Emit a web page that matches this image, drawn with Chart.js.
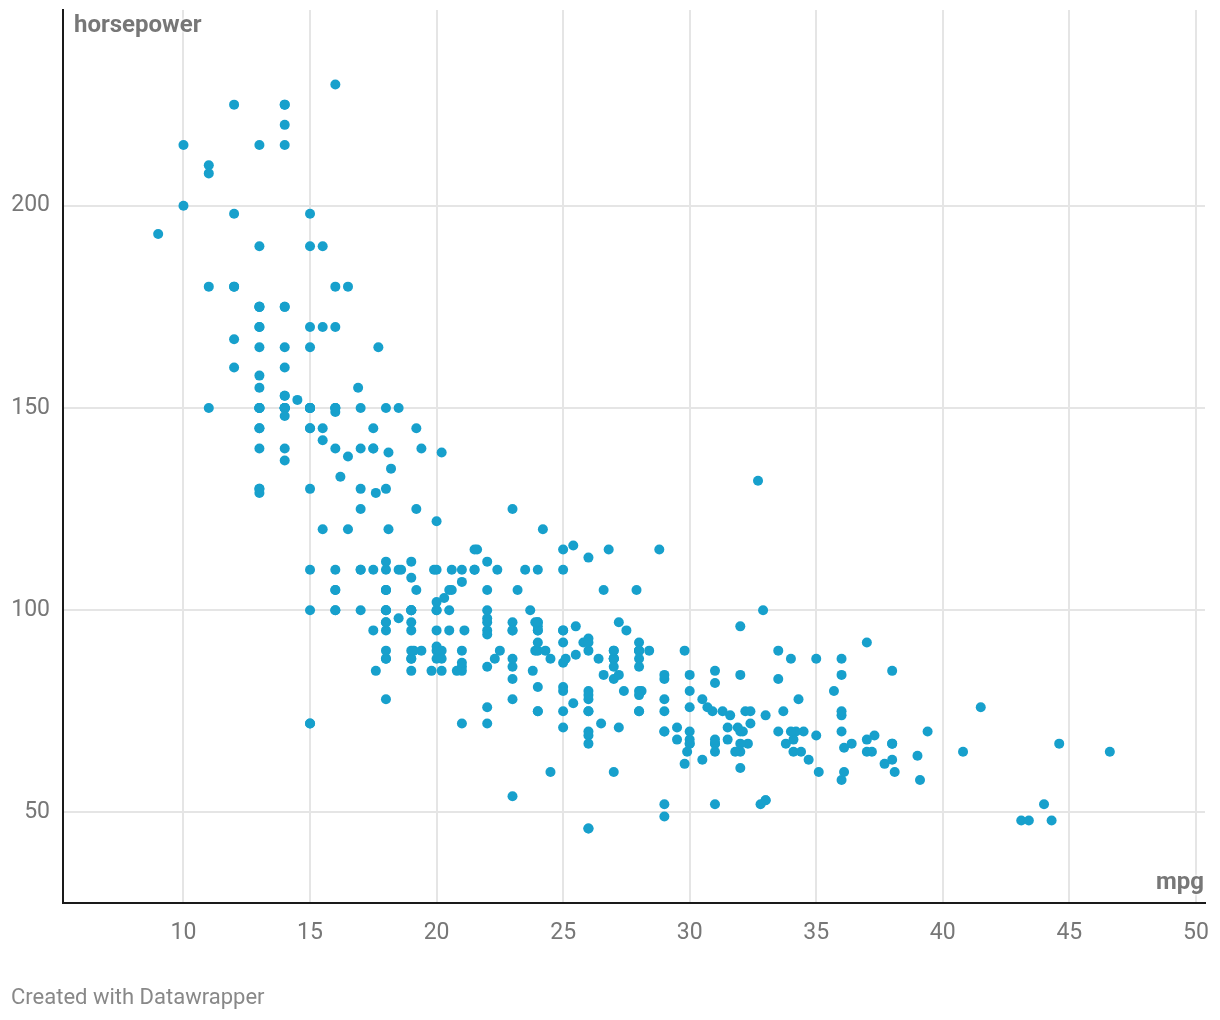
<!DOCTYPE html>
<html>
<head>
<meta charset="utf-8">
<script src="https://cdn.jsdelivr.net/npm/chart.js@4.4.1/dist/chart.umd.min.js"></script>
<style>
    body { margin: 0; background: #fff; font-family: Roboto, sans-serif; }
    #wrap { position: relative; width: 1220px; height: 1020px; }
    #chart { position: absolute; left: 0; top: 0; }
    .axis-title { position: absolute; font-weight: 700; font-size: 24px; color: #777; line-height: 1; text-shadow: 0 0 3px #fff, 0 0 3px #fff; }
    #yTitle { left: 74px; top: 12px; }
    #xTitle { right: 16px; top: 869px; }
    #footer { position: absolute; left: 11px; top: 986px; font-size: 22px; color: #888; line-height: 1; }
</style>
</head>
<body>
<div id="wrap">
    <canvas id="chart" width="1220" height="1020"></canvas>
    <div class="axis-title" id="yTitle">horsepower</div>
    <div class="axis-title" id="xTitle">mpg</div>
    <div id="footer">Created with Datawrapper</div>
</div>
<script>
// Values (auto mpg: mpg vs horsepower)
const mpg = [
    18, 15, 18, 16, 17, 15, 14, 14, 14, 15,
    15, 14, 15, 14, 24, 22, 18, 21, 27, 26,
    25, 24, 25, 26, 21, 10, 10, 11, 9, 27,
    28, 25, 19, 16, 17, 19, 18, 14, 14, 14,
    14, 12, 13, 13, 18, 22, 19, 18, 23, 28,
    30, 30, 31, 35, 27, 26, 24, 25, 23, 20,
    21, 13, 14, 15, 14, 17, 11, 13, 12, 13,
    19, 15, 13, 13, 14, 18, 22, 21, 26, 22,
    28, 23, 28, 27, 13, 14, 13, 14, 15, 12,
    13, 13, 14, 13, 12, 13, 18, 16, 18, 18,
    23, 26, 11, 12, 13, 12, 18, 20, 21, 22,
    18, 19, 21, 26, 15, 16, 29, 24, 20, 19,
    15, 24, 20, 11, 20, 19, 15, 31, 26, 32,
    25, 16, 16, 18, 16, 13, 14, 14, 14, 29,
    26, 26, 31, 32, 28, 24, 26, 24, 26, 31,
    19, 18, 15, 15, 16, 15, 16, 14, 17, 16,
    15, 18, 21, 20, 13, 29, 23, 20, 23, 24,
    25, 24, 18, 29, 19, 23, 23, 22, 25, 33,
    28, 25, 25, 26, 27, 17.5, 16, 15.5, 14.5, 22,
    22, 24, 22.5, 29, 24.5, 29, 33, 20, 18, 18.5,
    17.5, 29.5, 32, 28, 26.5, 20, 13, 19, 19, 16.5,
    16.5, 13, 13, 13, 31.5, 30, 36, 25.5, 33.5, 17.5,
    17, 15.5, 15, 17.5, 20.5, 19, 18.5, 16, 15.5, 15.5,
    16, 29, 24.5, 26, 25.5, 30.5, 33.5, 30, 30.5, 22,
    21.5, 21.5, 43.1, 36.1, 32.8, 39.4, 36.1, 19.9, 19.4, 20.2,
    19.2, 20.5, 20.2, 25.1, 20.5, 19.4, 20.6, 20.8, 18.6, 18.1,
    19.2, 17.7, 18.1, 17.5, 30, 27.5, 27.2, 30.9, 21.1, 23.2,
    23.8, 23.9, 20.3, 17, 21.6, 16.2, 31.5, 29.5, 21.5, 19.8,
    22.3, 20.2, 20.6, 17, 17.6, 16.5, 18.2, 16.9, 15.5, 19.2,
    18.5, 31.9, 34.1, 35.7, 27.4, 25.4, 23, 27.2, 23.9, 34.2,
    34.5, 31.8, 37.3, 28.4, 28.8, 26.8, 33.5, 41.5, 38.1, 32.1,
    37.2, 28, 26.4, 24.3, 19.1, 34.3, 29.8, 31.3, 37, 32.2,
    46.6, 27.9, 40.8, 44.3, 43.4, 36.4, 30, 44.6, 33.8, 29.8,
    32.7, 23.7, 35, 32.4, 27.2, 26.6, 25.8, 23.5, 30, 39.1,
    39, 35.1, 32.3, 37, 37.7, 34.1, 34.7, 34.4, 29.9, 33,
    33.7, 32.4, 32.9, 31.6, 28.1, 30.7, 25.4, 24.2, 22.4, 26.6,
    20.2, 17.6, 28, 27, 34, 31, 29, 27, 24, 36,
    37, 31, 38, 36, 36, 36, 34, 38, 32, 38,
    25, 38, 26, 22, 32, 36, 27, 27, 44, 32, 28, 31
];

const horsepower = [
    130, 165, 150, 150, 140, 198, 220, 215, 225, 190,
    170, 160, 150, 225, 95, 95, 97, 85, 88, 46,
    87, 90, 95, 113, 90, 215, 200, 210, 193, 88,
    90, 95, 100, 105, 100, 88, 100, 165, 175, 153,
    150, 180, 170, 175, 110, 72, 100, 88, 86, 90,
    70, 76, 65, 69, 60, 70, 95, 80, 54, 90,
    86, 165, 175, 150, 153, 150, 208, 155, 160, 190,
    97, 150, 130, 140, 150, 112, 76, 87, 69, 86,
    92, 97, 80, 88, 175, 150, 145, 137, 150, 198,
    150, 158, 150, 215, 225, 175, 105, 100, 100, 88,
    95, 46, 150, 167, 170, 180, 100, 88, 72, 94,
    90, 85, 107, 90, 145, 230, 49, 75, 91, 112,
    150, 110, 122, 180, 95, 100, 100, 67, 80, 65,
    75, 100, 110, 105, 140, 150, 150, 140, 150, 83,
    67, 78, 52, 61, 75, 75, 75, 97, 93, 67,
    95, 105, 72, 72, 170, 145, 150, 148, 110, 105,
    110, 95, 110, 110, 129, 75, 83, 100, 78, 96,
    71, 97, 97, 70, 90, 95, 88, 98, 115, 53,
    86, 81, 92, 79, 83, 140, 150, 120, 152, 100,
    105, 81, 90, 52, 60, 70, 53, 100, 78, 110,
    95, 71, 70, 75, 72, 102, 150, 88, 108, 120,
    180, 145, 130, 150, 68, 80, 58, 96, 70, 145,
    110, 145, 130, 110, 105, 100, 98, 180, 170, 190,
    149, 78, 88, 75, 89, 63, 83, 67, 78, 97,
    110, 110, 48, 66, 52, 70, 60, 110, 140, 139,
    105, 95, 85, 88, 100, 90, 105, 85, 110, 120,
    145, 165, 139, 140, 68, 95, 97, 75, 95, 105,
    85, 97, 103, 125, 115, 133, 71, 68, 115, 85,
    88, 90, 110, 130, 129, 138, 135, 155, 142, 125,
    150, 71, 65, 80, 80, 77, 125, 71, 90, 70,
    70, 65, 69, 90, 115, 115, 90, 76, 60, 70,
    65, 90, 88, 90, 90, 78, 90, 75, 92, 75,
    65, 105, 65, 48, 48, 67, 67, 67, 67, 62,
    132, 100, 88, 72, 84, 84, 92, 110, 84, 58,
    64, 60, 67, 65, 62, 68, 63, 65, 65, 74,
    75, 75, 100, 74, 80, 76, 116, 120, 110, 105,
    88, 85, 88, 88, 88, 85, 84, 90, 92, 74,
    68, 68, 63, 70, 88, 75, 70, 67, 67, 67,
    110, 85, 92, 112, 96, 84, 90, 86, 52, 84, 79, 82
];

const xTicks = [10, 15, 20, 25, 30, 35, 40, 45, 50];
const yTicks = [50, 100, 150, 200];

// Axis ranges: data extent plus 10% on each side
const xMin = 5.24, xMax = 50.36;
const yMin = 27.6, yMax = 248.4;

const points = mpg.map((m, i) => ({ x: m, y: horsepower[i] }));

const tickFont = { family: 'Roboto', size: 23 };
const gridColor = '#e5e5e5';
const axisColor = '#1a1a1a';

// Keep the plot box fixed: no extra room for the tick labels
function noLabelPadding(scale) {
    scale.paddingTop = 0;
    scale.paddingBottom = 0;
    scale.paddingLeft = 0;
    scale.paddingRight = 0;
}

new Chart(document.getElementById('chart'), {
    type: 'scatter',
    data: {
        datasets: [{
            data: points,
            backgroundColor: '#17a0cc',
            borderWidth: 0,
            pointRadius: 5,
            pointHoverRadius: 5
        }]
    },
    options: {
        responsive: false,
        animation: false,
        layout: {
            padding: { top: 10, right: 15, left: 0, bottom: 0 }
        },
        plugins: {
            legend: { display: false },
            tooltip: { enabled: false }
        },
        scales: {
            x: {
                type: 'linear',
                min: xMin,
                max: xMax,
                afterBuildTicks: function(scale) {
                    scale.ticks = xTicks.map(v => ({ value: v }));
                },
                afterFit: function(scale) {
                    scale.height = 117;
                    noLabelPadding(scale);
                },
                grid: {
                    color: gridColor,
                    lineWidth: 2,
                    drawTicks: false
                },
                border: { color: axisColor, width: 2 },
                ticks: {
                    font: tickFont,
                    color: '#777',
                    padding: 16,
                    maxRotation: 0
                }
            },
            y: {
                type: 'linear',
                min: yMin,
                max: yMax,
                afterBuildTicks: function(scale) {
                    scale.ticks = yTicks.map(v => ({ value: v }));
                },
                afterFit: function(scale) {
                    scale.width = 63;
                    noLabelPadding(scale);
                },
                grid: {
                    color: gridColor,
                    lineWidth: 2,
                    drawTicks: false
                },
                border: { color: axisColor, width: 2 },
                ticks: {
                    font: tickFont,
                    color: '#777',
                    padding: 13
                }
            }
        }
    }
});
</script>
</body>
</html>
